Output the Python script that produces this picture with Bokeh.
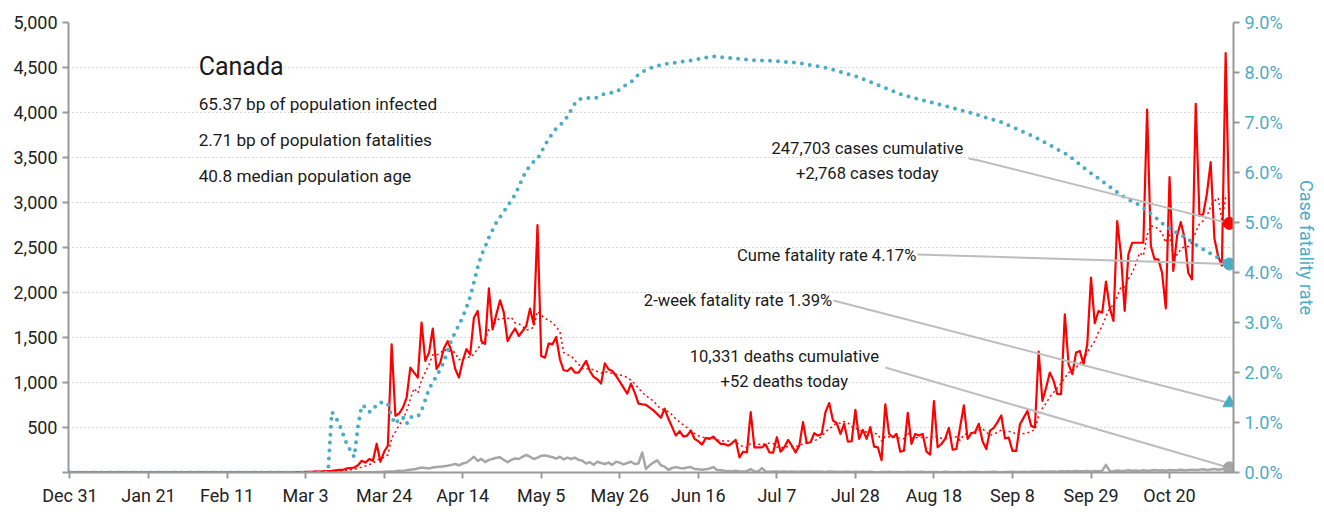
import pandas as pd
from bokeh.plotting import figure
from bokeh.models import Range1d, LinearAxis, FixedTicker, Label, NumeralTickFormatter
from bokeh.embed import file_html
from bokeh.resources import INLINE

FONT = "Roboto"
TEAL = "#4bacc6"
RED = "#ff0000"
GREY = "#a6a6a6"

# x = days since Dec 31, 2019
tick_days = [0, 21, 42, 63, 84, 105, 126, 147, 168, 189, 210, 231, 252, 273, 294]
tick_labels = ["Dec 31", "Jan 21", "Feb 11", "Mar 3", "Mar 24", "Apr 14", "May 5",
               "May 26", "Jun 16", "Jul 7", "Jul 28", "Aug 18", "Sep 8", "Sep 29", "Oct 20"]

# daily new cases, Dec 31 .. Feb 29 (day 0..60) are zero
cases_early = [0] * 61
# daily new cases, Mar 1 (day 61) .. Nov 5 (day 310)
cases_main = [
    4, 3, 6, 8, 9, 12, 11, 15, 16, 18,
    25, 30, 30, 45, 50, 55, 80, 130, 110, 150,
    130, 320, 120, 230, 300, 1425, 630, 655, 720, 830,
    1165, 1110, 1055, 1665, 1240, 1330, 1600, 1150, 1220, 1380,
    1460, 1350, 1150, 1055, 1240, 1370, 1310, 1720, 1795, 1460,
    1430, 2045, 1590, 1757, 1913, 1776, 1460, 1535, 1600, 1517,
    1572, 1628, 1820, 1646, 2750, 1295, 1276, 1435, 1424, 1506,
    1258, 1136, 1128, 1165, 1110, 1110, 1173, 1240, 1128, 1062,
    1036, 988, 1214, 1147, 1128, 1073, 1010, 943, 877, 988,
    888, 766, 758, 751, 720, 690, 650, 608, 709, 597,
    504, 410, 459, 399, 410, 466, 373, 347, 310, 384,
    373, 399, 354, 317, 317, 298, 325, 362, 168, 231,
    224, 671, 280, 280, 280, 310, 224, 220, 392, 231,
    280, 362, 298, 224, 298, 560, 325, 336, 436, 410,
    429, 671, 772, 578, 548, 429, 541, 343, 347, 697,
    373, 474, 373, 504, 287, 280, 138, 757, 429, 392,
    429, 231, 242, 664, 317, 429, 410, 429, 231, 198,
    794, 280, 317, 373, 496, 254, 261, 504, 746, 373,
    436, 448, 541, 347, 261, 466, 496, 560, 634, 380,
    388, 240, 240, 536, 610, 684, 518, 500, 1343, 796,
    944, 1110, 1018, 870, 870, 1758, 1203, 1092, 1332, 1351,
    1203, 1425, 2165, 1658, 1795, 1776, 2120, 1832, 1684, 2794,
    2424, 1795, 2424, 2553, 2553, 2553, 2553, 4033, 2516, 2368,
    2368, 2220, 1824, 3282, 2239, 2627, 2782, 2609, 2220, 2146,
    4096, 2850, 2870, 3100, 3448, 2600, 2400, 2300, 4660, 2768,
]

deaths_early = [0] * 61
deaths_main = [
    0, 0, 0, 0, 0, 0, 0, 0, 1, 0,
    0, 1, 0, 0, 1, 1, 3, 2, 3, 4,
    4, 5, 6, 8, 10, 12, 15, 20, 18, 25,
    30, 35, 45, 55, 50, 45, 55, 60, 65, 70,
    75, 85, 95, 80, 100, 110, 140, 175, 130, 150,
    115, 140, 150, 165, 170, 140, 115, 140, 155, 150,
    175, 195, 175, 150, 165, 185, 190, 180, 170, 155,
    175, 145, 165, 150, 165, 140, 130, 100, 115, 85,
    120, 105, 95, 110, 85, 120, 110, 90, 105, 120,
    95, 100, 222, 40, 80, 110, 135, 80, 65, 30,
    50, 60, 50, 45, 55, 60, 40, 35, 30, 35,
    45, 60, 28, 25, 20, 18, 15, 20, 12, 10,
    15, 37, 12, 10, 48, 12, 8, 10, 12, 9,
    10, 8, 12, 9, 7, 10, 8, 12, 9, 10,
    8, 6, 10, 9, 7, 5, 8, 9, 6, 7,
    5, 8, 6, 7, 5, 4, 6, 5, 7, 6,
    5, 6, 4, 7, 5, 6, 5, 8, 4, 5,
    6, 5, 4, 7, 5, 3, 6, 5, 4, 6,
    5, 7, 6, 4, 5, 6, 8, 5, 4, 6,
    5, 7, 6, 5, 8, 6, 7, 9, 8, 10,
    9, 12, 10, 8, 14, 12, 15, 11, 17, 13,
    15, 18, 12, 16, 14, 20, 85, 18, 15, 22,
    17, 20, 24, 19, 22, 18, 26, 20, 23, 27,
    22, 25, 19, 28, 24, 26, 30, 25, 28, 32,
    27, 30, 35, 28, 33, 38, 30, 36, 42, 52,
]

# cumulative case fatality rate (%), read at these days
cfr_days = [0, 69, 70, 71, 72, 73, 74, 75, 76, 77, 78, 79, 80,
            81, 82, 83, 84, 85, 86, 87, 88, 89, 90,
            91, 92, 93, 94, 95, 96, 97, 98, 99, 100,
            101, 102, 103, 104, 105, 106, 107, 108, 109, 110,
            111, 112, 113, 114, 115, 116, 117, 118, 119, 120,
            121, 122, 123, 124, 125, 126, 127, 128, 129, 130,
            131, 132, 133, 134, 135, 136, 137, 138, 139, 140,
            141, 142, 143, 144, 145, 146, 147, 148, 149, 150,
            151, 152, 153, 154, 155, 156, 157, 158, 159, 160,
            161, 162, 163, 164, 165, 166, 167, 168, 169, 170,
            171, 172, 173, 174, 175, 182, 188, 195, 203, 211,
            223, 231, 240, 249, 258, 267, 272, 277, 282, 286,
            290, 293, 298, 302, 306, 309, 310]
cfr_vals = [0.0, 0.0, 1.21, 1.11, 0.97, 0.77, 0.57, 0.44, 0.31, 0.92, 1.34, 1.31, 1.21,
            1.24, 1.37, 1.40, 1.41, 1.37, 1.11, 0.97, 1.07, 1.11, 0.97,
            1.11, 1.11, 1.12, 1.24, 1.45, 1.67, 1.81, 1.92, 2.07, 2.21,
            2.45, 2.65, 2.80, 2.95, 3.11, 3.30, 3.51, 3.80, 4.10, 4.35,
            4.51, 4.70, 4.85, 5.00, 5.11, 5.22, 5.32, 5.45, 5.55, 5.72,
            5.88, 6.05, 6.12, 6.22, 6.27, 6.40, 6.55, 6.67, 6.78, 6.88,
            6.95, 7.01, 7.12, 7.25, 7.38, 7.46, 7.48, 7.49, 7.49, 7.49,
            7.50, 7.55, 7.57, 7.58, 7.60, 7.61, 7.66, 7.72, 7.77, 7.81,
            7.88, 7.96, 8.01, 8.05, 8.08, 8.11, 8.13, 8.15, 8.17, 8.18,
            8.19, 8.20, 8.21, 8.22, 8.23, 8.24, 8.25, 8.27, 8.28, 8.30,
            8.31, 8.32, 8.32, 8.31, 8.30, 8.25, 8.23, 8.19, 8.08, 7.90,
            7.54, 7.39, 7.21, 7.01, 6.71, 6.34, 6.04, 5.77, 5.50, 5.35,
            5.12, 4.92, 4.71, 4.51, 4.33, 4.21, 4.17]

cum_cases = 247703
cum_deaths = 10331
two_week_cfr = 1.39
summary_lines = ["65.37 bp of population infected",
                 "2.71 bp of population fatalities",
                 "40.8 median population age"]

cases = cases_early + cases_main
deaths = deaths_early + deaths_main
days = list(range(len(cases)))
avg7 = pd.Series(cases, dtype=float).rolling(7, min_periods=1).mean().tolist()
last = days[-1]
last_case = cases[-1]
last_death = deaths[-1]
last_cfr = cfr_vals[-1]
to_left = 5000 / 9.0

p = figure(width=1322, height=510, x_range=Range1d(-0.4, 311.1), y_range=Range1d(0, 5000),
           output_backend="svg", toolbar_location=None,
           min_border_left=68, min_border_right=89, min_border_top=22, min_border_bottom=38)
p.extra_y_ranges = {"cfr": Range1d(0, 9)}
p.outline_line_color = None
p.background_fill_color = "white"
p.xgrid.visible = False
p.ygrid.grid_line_color = "#b3b3b3"
p.ygrid.grid_line_dash = "1 3"
p.ygrid.grid_line_width = 1

def style_axis(ax, color="#222222", standoff=5):
    ax.axis_line_color = "#999999"
    ax.axis_line_width = 2
    ax.major_tick_line_color = "#999999"
    ax.major_tick_line_width = 2
    ax.major_tick_in = 0
    ax.major_tick_out = 6
    ax.minor_tick_line_color = None
    ax.major_label_text_font = FONT
    ax.major_label_text_font_size = "18px"
    ax.major_label_text_color = color
    ax.major_label_standoff = standoff

xa = p.xaxis[0]
style_axis(xa, standoff=6)
xa.ticker = FixedTicker(ticks=tick_days)
xa.major_label_overrides = {d: l for d, l in zip(tick_days, tick_labels)}

ya = p.yaxis[0]
style_axis(ya)
ya.ticker = FixedTicker(ticks=list(range(0, 5001, 500)))
ya.formatter = NumeralTickFormatter(format="0,0")
ya.major_label_overrides = {0: ""}

ra = LinearAxis(y_range_name="cfr", ticker=FixedTicker(ticks=list(range(0, 10))),
                axis_label="Case fatality rate")
style_axis(ra, TEAL)
ra.major_label_overrides = {i: f"{i}.0%" for i in range(10)}
ra.axis_label_text_font = FONT
ra.axis_label_text_font_size = "18px"
ra.axis_label_text_font_style = "normal"
ra.axis_label_text_color = TEAL
ra.axis_label_standoff = 10
p.add_layout(ra, "right")

# series
p.line(days, deaths, line_color=GREY, line_width=2.5, line_join="round")
p.line(days, cases, line_color=RED, line_width=2.2, line_join="round")
p.line(days, avg7, line_color=RED, line_width=1.5, line_dash="2 3")
p.line(cfr_days, cfr_vals, y_range_name="cfr", line_color=TEAL, line_width=4,
       line_dash="0 8", line_cap="round")

# leader lines (x in days, y in left-axis units)
LC = "#bdbdbd"
p.line([240.3, 243.0, last], [3490, 3467, last_case], line_color=LC, line_width=2)
p.line([226.6, last], [2422, last_cfr * to_left], line_color=LC, line_width=2)
p.line([204.1, last], [1911, two_week_cfr * to_left], line_color=LC, line_width=2)
p.line([218.0, last], [1167, last_death], line_color=LC, line_width=2)

# end markers
p.scatter([last], [last_case], marker="circle", size=12, color=RED)
p.scatter([last], [last_cfr], y_range_name="cfr", marker="circle", size=12, color=TEAL)
p.scatter([last], [two_week_cfr], y_range_name="cfr", marker="triangle", size=13, color=TEAL)
p.scatter([last], [last_death], marker="circle", size=12, color=GREY)

def lab(x, y, text, size="16.6px", align="left"):
    p.add_layout(Label(x=x, y=y, text=text, text_font=FONT, text_font_size=size,
                       text_color="#1a1a1a", text_align=align, text_baseline="middle"))

lab(34.4, 4511, "Canada", size="25px")
for i, t in enumerate(summary_lines):
    lab(34.4, 4100 - i * 400, t, size="17.2px")

lab(213.2, 3600, f"{cum_cases:,} cases cumulative", align="center")
lab(213.2, 3322, f"+{last_case:,} cases today", align="center")
lab(226.3, 2411, f"Cume fatality rate {last_cfr:.2f}%", align="right")
lab(203.8, 1911, f"2-week fatality rate {two_week_cfr:.2f}%", align="right")
lab(191.0, 1289, f"{cum_deaths:,} deaths cumulative", align="center")
lab(191.0, 1011, f"+{last_death:,} deaths today", align="center")

open("out.html", "w").write(file_html(p, INLINE))
